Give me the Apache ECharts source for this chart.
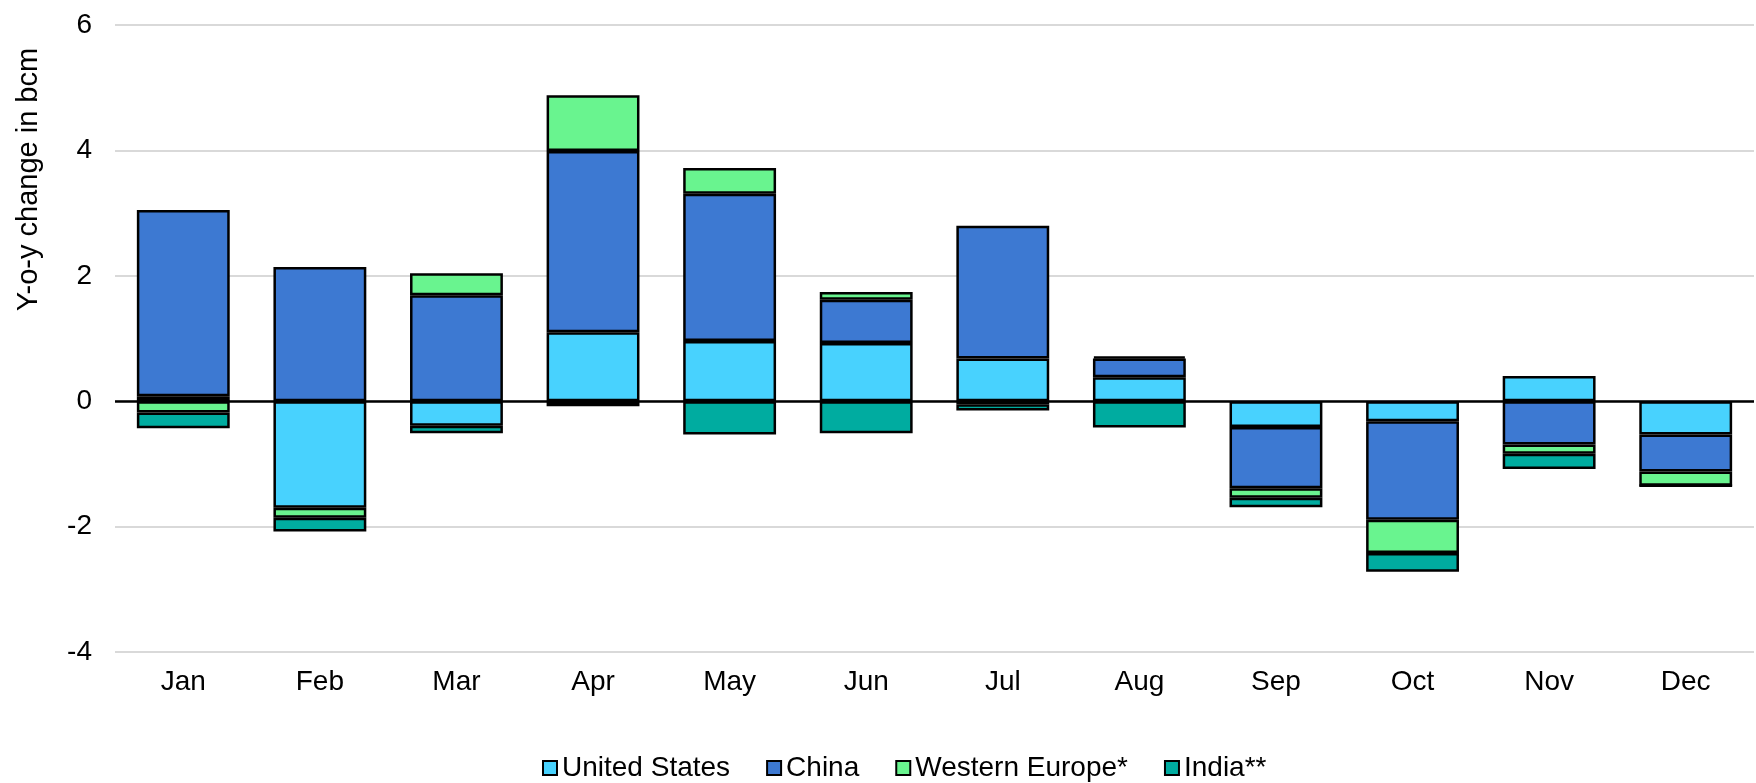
<!DOCTYPE html>
<html>
<head>
<meta charset="UTF-8">
<title>Y-o-y change in bcm</title>
<script src="https://cdn.jsdelivr.net/npm/echarts@6/dist/echarts.min.js"></script>
</head>
<body style="margin:0;background:#fff;">
<div id="chart" style="width:1756px;height:783px;"></div>
<script type="text/javascript">
// data (bcm, y-o-y change)
var months = ['Jan', 'Feb', 'Mar', 'Apr', 'May', 'Jun', 'Jul', 'Aug', 'Sep', 'Oct', 'Nov', 'Dec'];
var unitedStates = [0.08, -1.70, -0.39, 1.10, 0.96, 0.93, 0.68, 0.38, -0.41, -0.32, 0.40, -0.53];
var china = [2.97, 2.14, 1.69, 2.89, 2.35, 0.69, 2.12, 0.30, -0.98, -1.57, -0.69, -0.59];
var westernEurope = [-0.18, -0.16, 0.35, 0.89, 0.41, 0.12, -0.05, 0.03, -0.15, -0.53, -0.15, -0.23];
var india = [-0.25, -0.22, -0.12, -0.08, -0.53, -0.51, -0.10, -0.42, -0.15, -0.30, -0.24, 0];
var seriesNames = ['United States', 'China', 'Western Europe*', 'India**'];
var seriesColors = ['#48D2FE', '#3D79D2', '#69F48F', '#00ACA0'];

var font = 'Liberation Sans, Arial, sans-serif';
var chart = echarts.init(document.getElementById('chart'));

var allData = [unitedStates, china, westernEurope, india];
var series = [];
for (var i = 0; i < allData.length; i++) {
    series.push({
        name: seriesNames[i],
        type: 'bar',
        stack: 'total',
        barCategoryGap: '32%',
        data: allData[i],
        itemStyle: {
            color: seriesColors[i],
            borderColor: '#000',
            borderWidth: 2.5
        }
    });
}
// black zero line
series[3].markLine = {
    silent: true,
    symbol: 'none',
    label: { show: false },
    lineStyle: { color: '#000', width: 2.5, type: 'solid' },
    data: [{ yAxis: 0 }]
};

var option = {
    animation: false,
    backgroundColor: '#fff',
    grid: { left: 115, right: 2, top: 25, bottom: 131 },
    legend: {
        left: 537,
        top: 749,
        itemWidth: 14,
        itemHeight: 14,
        itemGap: 36,
        icon: 'rect',
        itemStyle: { borderColor: '#000', borderWidth: 2 },
        textStyle: { fontFamily: font, fontSize: 28, color: '#000' },
        data: seriesNames
    },
    xAxis: {
        type: 'category',
        data: months,
        axisLine: { show: false },
        axisTick: { show: false },
        axisLabel: { fontFamily: font, fontSize: 28, color: '#000', margin: 16 }
    },
    yAxis: {
        type: 'value',
        min: -4,
        max: 6,
        interval: 2,
        name: 'Y-o-y change in bcm',
        nameLocation: 'middle',
        nameGap: 72,
        nameTextStyle: { fontFamily: font, fontSize: 29, color: '#000', padding: [0, 0, 0, 318] },
        axisLine: { show: false },
        axisTick: { show: false },
        axisLabel: { fontFamily: font, fontSize: 28, color: '#000', margin: 23 },
        splitLine: { lineStyle: { color: '#D9D9D9', width: 2 } }
    },
    series: series
};
chart.setOption(option);
</script>
</body>
</html>
